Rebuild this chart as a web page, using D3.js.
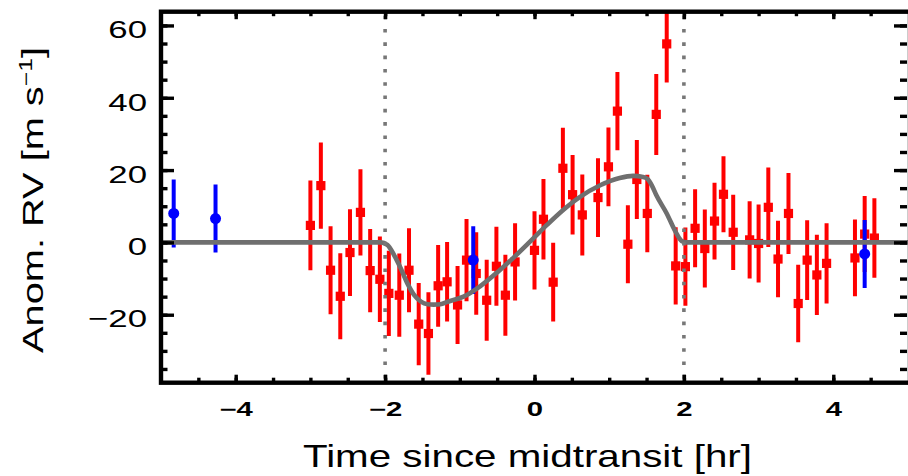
<!DOCTYPE html>
<html>
<head>
<meta charset="utf-8">
<script src="https://cdn.jsdelivr.net/npm/d3@7"></script>
<style>
  body { margin: 0; background: #fff; }
  svg { display: block; }
</style>
</head>
<body>
<svg id="chart" width="908" height="476"></svg>
<script>
// In-transit radial-velocity anomalies (red squares)
const redTime = [-3.00, -2.86, -2.73, -2.60, -2.47, -2.33, -2.20, -2.07, -1.95, -1.81,
                 -1.68, -1.55, -1.42, -1.29, -1.17, -1.03, -0.91, -0.78, -0.64, -0.51,
                 -0.39, -0.26, 0.00, 0.12, 0.25, 0.38, 0.51, 0.64, 0.85, 0.99,
                 1.11, 1.25, 1.37, 1.51, 1.63, 1.77, 1.89, 2.02, 2.15, 2.28,
                 2.41, 2.53, 2.66, 2.88, 3.00, 3.13, 3.26, 3.40, 3.53, 3.65,
                 3.78, 3.91, 4.29, 4.42, 4.55];
const redRV   = [4.7, 15.7, -7.7, -14.9, -2.8, 8.3, -7.8, -10.2, -14.1, -14.6,
                 -7.7, -22.6, -25.2, -12.0, -10.9, -17.3, -4.9, -8.6, -16.0, -6.6,
                 -14.6, -5.4, -2.2, 6.4, -11.0, 20.5, 13.2, 7.6, 12.4, 20.9,
                 36.3, -0.5, 17.4, 8.0, 35.4, 54.9, -6.5, -6.7, 3.9, -1.7,
                 5.9, 13.3, 2.8, 0.7, -0.3, 9.7, -4.6, 8.0, -16.9, -4.9,
                 -9.0, -5.8, -4.3, 2.3, 1.2];
const redErr  = [12.4, 11.9, 12.2, 11.9, 12.0, 11.9, 11.5, 11.8, 11.8, 11.5,
                 11.6, 11.4, 11.4, 11.3, 11.0, 10.8, 11.4, 11.4, 11.2, 10.9,
                 11.2, 10.7, 10.8, 11.1, 10.9, 11.2, 11.0, 11.2, 10.9, 10.9,
                 10.8, 10.8, 10.9, 10.7, 11.2, 10.7, 10.7, 10.8, 10.8, 10.8,
                 10.6, 10.5, 10.4, 10.7, 10.8, 11.0, 10.6, 11.2, 10.7, 11.0,
                 11.1, 11.1, 10.6, 10.5, 11.0];

// Out-of-transit / other-night points (blue circles)
const blueTime = [-4.83, -4.27, -0.82, 4.42];
const blueRV   = [8.0, 6.6, -4.9, -3.2];
const blueErr  = [9.4, 9.4, 9.4, 9.4];

// Rossiter-McLaughlin model curve
const modelTime = [-5, -2.06, -1.97, -1.88, -1.79, -1.70, -1.61, -1.52, -1.43, -1.35,
                   -1.26, -1.16, -0.95, -0.72, -0.50, -0.28, -0.06, 0.17, 0.38, 0.61,
                   0.88, 1.14, 1.32, 1.45, 1.51, 1.57, 1.63, 1.77, 1.90, 1.97, 2.03, 5];
const modelRV   = [0, 0, -0.7, -3.5, -7.2, -11.4, -14.6, -16.4, -17.1, -17.2,
                   -17.1, -16.4, -15.0, -12.0, -8.3, -4.2, 0.2, 4.9, 8.9, 12.6,
                   15.8, 17.8, 18.4, 18.1, 17.6, 15.8, 13.1, 8.0, 2.5, 0.4, 0, 0];

// First and last contact
const contactTimes = [-2, 2];

// Axes
const xDomain = [-5, 5];
const yDomain = [-38.8, 63.8];
const xMajorTicks = [-4, -2, 0, 2, 4];
const xMinorTicks = d3.range(-4.5, 5, 0.5);
const yMajorTicks = [-20, 0, 20, 40, 60];
const yMinorTicks = d3.range(-35, 64, 5);
const xTitle = "Time since midtransit [hr]";

const svg = d3.select("#chart");
const L = 161, R = 908, T = 11.7, B = 382.7;

const x = d3.scaleLinear().domain(xDomain).range([L, R]);
const y = d3.scaleLinear().domain(yDomain).range([B, T]);

const fmt = v => (v < 0 ? "\u2212" : "") + Math.abs(v);

// stretch a text node horizontally along its writing direction
function widen(sel, factor) {
  sel.each(function () {
    const w = this.getComputedTextLength();
    d3.select(this).attr("textLength", w * factor).attr("lengthAdjust", "spacingAndGlyphs");
  });
}

svg.append("defs").append("clipPath").attr("id", "plotArea")
  .append("rect").attr("x", L).attr("y", T).attr("width", R - L).attr("height", B - T);

const plot = svg.append("g").attr("clip-path", "url(#plotArea)");

// red error bars and squares
const red = redTime.map((t, i) => ({ t, v: redRV[i], e: redErr[i] }));
plot.append("g").selectAll("line").data(red).join("line")
  .attr("x1", d => x(d.t)).attr("x2", d => x(d.t))
  .attr("y1", d => y(d.v - d.e)).attr("y2", d => y(d.v + d.e))
  .attr("stroke", "#ff0000").attr("stroke-width", 4);
plot.append("g").selectAll("rect").data(red).join("rect")
  .attr("x", d => x(d.t) - 4.6).attr("y", d => y(d.v) - 4.6)
  .attr("width", 9.2).attr("height", 9.2).attr("fill", "#ff0000");

// blue error bars and dots
const blue = blueTime.map((t, i) => ({ t, v: blueRV[i], e: blueErr[i] }));
plot.append("g").selectAll("line").data(blue).join("line")
  .attr("x1", d => x(d.t)).attr("x2", d => x(d.t))
  .attr("y1", d => y(d.v - d.e)).attr("y2", d => y(d.v + d.e))
  .attr("stroke", "#0000ff").attr("stroke-width", 4);
plot.append("g").selectAll("circle").data(blue).join("circle")
  .attr("cx", d => x(d.t)).attr("cy", d => y(d.v)).attr("r", 5.5)
  .attr("fill", "#0000ff");

// model
const line = d3.line().x(d => x(d[0])).y(d => y(d[1])).curve(d3.curveMonotoneX);
plot.append("path")
  .datum(modelTime.map((t, i) => [t, modelRV[i]]))
  .attr("d", line)
  .attr("fill", "none").attr("stroke", "#6f6f6f").attr("stroke-width", 4.6)
  .attr("stroke-linejoin", "round");

// contact lines
plot.append("g").selectAll("line").data(contactTimes).join("line")
  .attr("x1", d => x(d)).attr("x2", d => x(d))
  .attr("y1", T + 4).attr("y2", B)
  .attr("stroke", "#777").attr("stroke-width", 3.6)
  .attr("stroke-dasharray", "3.6,9.7");

// ticks on all four sides, pointing inward
function tickAxis(axis, transform) {
  const g = svg.append("g").attr("transform", transform).call(axis);
  g.select(".domain").remove();
  g.selectAll(".tick line").attr("stroke", "#000").attr("stroke-width", 3.4);
  return g;
}
tickAxis(d3.axisBottom(x).tickValues(xMinorTicks).tickSize(-5).tickFormat(""), `translate(0,${B})`);
tickAxis(d3.axisTop(x).tickValues(xMinorTicks).tickSize(-4.5).tickFormat(""), `translate(0,${T})`);
tickAxis(d3.axisTop(x).tickValues(xMajorTicks).tickSize(-7.5).tickFormat(""), `translate(0,${T})`);
tickAxis(d3.axisLeft(y).tickValues(yMinorTicks).tickSize(-6.5).tickFormat(""), `translate(${L},0)`);
tickAxis(d3.axisRight(y).tickValues(yMinorTicks).tickSize(-7).tickFormat(""), `translate(${R - 1},0)`);
tickAxis(d3.axisRight(y).tickValues(yMajorTicks).tickSize(-13).tickFormat(""), `translate(${R - 1},0)`);

const xAx = tickAxis(d3.axisBottom(x).tickValues(xMajorTicks).tickSize(-8).tickFormat(fmt), `translate(0,${B})`);
xAx.selectAll("text")
  .attr("y", 33).attr("dy", null)
  .attr("font-family", "Liberation Sans, Arial, sans-serif")
  .attr("font-weight", "bold").attr("font-size", 19.5).attr("fill", "#000")
  .call(widen, 1.5);

const yAx = tickAxis(d3.axisLeft(y).tickValues(yMajorTicks).tickSize(-13).tickFormat(fmt), `translate(${L},0)`);
yAx.selectAll("text")
  .attr("x", -14).attr("dy", "0.5em")
  .attr("font-family", "Liberation Sans, Arial, sans-serif")
  .attr("font-size", 24.5).attr("fill", "#000")
  .call(widen, 1.42);

// frame
svg.append("rect").attr("x", L).attr("y", T).attr("width", R - L + 2).attr("height", B - T)
  .attr("fill", "none").attr("stroke", "#000").attr("stroke-width", 4.4);

// axis titles
svg.append("text")
  .attr("x", 303).attr("y", 467)
  .attr("font-family", "Liberation Sans, Arial, sans-serif")
  .attr("font-size", 32).attr("fill", "#000")
  .attr("textLength", 449).attr("lengthAdjust", "spacingAndGlyphs")
  .text(xTitle);

const yt = svg.append("text")
  .attr("transform", "translate(43,353) rotate(-90)")
  .attr("font-family", "Liberation Sans, Arial, sans-serif")
  .attr("font-size", 29).attr("fill", "#000")
  .attr("textLength", 306).attr("lengthAdjust", "spacingAndGlyphs");
yt.append("tspan").text("Anom. RV [m s");
yt.append("tspan").attr("dy", -11).attr("font-size", 18).text("\u22121");
yt.append("tspan").attr("dy", 11).text("]");
</script>
</body>
</html>
